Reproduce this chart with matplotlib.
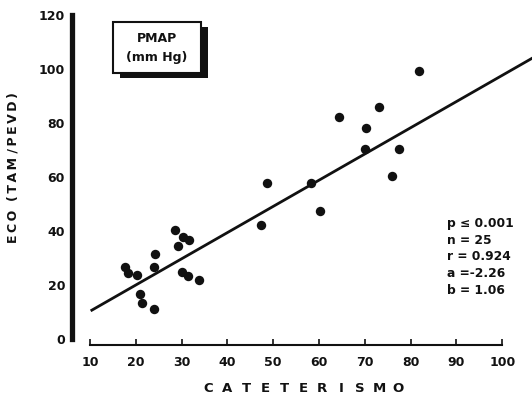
"""
Scatter of ECO vs CATETERISMO (PMAP, mm Hg) with regression line.
"""

import matplotlib
matplotlib.use("Agg")
import matplotlib.pyplot as plt
from matplotlib.patches import Rectangle

# ── Data ───────────────────────────────────────────────────────────────────────
cat_x = [17.6, 18.3, 20.3, 20.9, 21.3, 24.0, 24.2, 24.0, 28.5, 29.2,
         30.3, 31.6, 30.0, 31.4, 33.9, 47.3, 60.2, 48.6, 58.3, 64.4,
         70.0, 70.3, 73.1, 77.5, 75.9, 81.8]
eco_y = [26.7, 24.4, 23.7, 16.7, 13.3, 11.1, 31.5, 26.7, 40.4, 34.4,
         37.8, 36.7, 24.8, 23.3, 21.9, 42.2, 47.4, 57.8, 57.8, 82.2,
         70.4, 78.1, 85.9, 70.4, 60.4, 99.3]

fit_x = [10.4, 106.5]
fit_y = [10.7, 104.0]

x_ticks = [10, 20, 30, 40, 50, 60, 70, 80, 90, 100]
y_ticks = [0, 20, 40, 60, 80, 100, 120]

stats = ["p \u2264 0.001", "n = 25", "r = 0.924", "a =-2.26", "b = 1.06"]

INK = "#111111"
FONT = "DejaVu Sans"
W, H = 532, 397


def px(x, y):
    return x / W, 1 - y / H


fig = plt.figure(figsize=(5.32, 3.97), dpi=100)
ax = fig.add_axes([72 / W, 52 / H, 1 - 72 / W, 1 - 52 / H])
ax.set_xlim(6.07, 106.5)
ax.set_ylim(-2.2, 125.6)

ax.scatter(cat_x, eco_y, s=46, color=INK, zorder=3, linewidths=0)
ax.plot(fit_x, fit_y, color=INK, lw=2.0, zorder=2, clip_on=False)

# spines
for s in ("top", "right"):
    ax.spines[s].set_visible(False)
ax.spines["left"].set_linewidth(3.8)
ax.spines["left"].set_bounds(0, 120)
ax.spines["left"].set_color(INK)
ax.spines["bottom"].set_linewidth(1.5)
ax.spines["bottom"].set_bounds(10, 100)
ax.spines["bottom"].set_color(INK)

ax.set_xticks(x_ticks)
ax.set_yticks(y_ticks)
ax.tick_params(axis="x", direction="in", length=4, width=1.2, pad=8,
               labelsize=9, colors=INK)
ax.tick_params(axis="y", direction="in", length=0, pad=5,
               labelsize=9, colors=INK)
for lab in ax.get_xticklabels() + ax.get_yticklabels():
    lab.set_fontweight("bold")
    lab.set_family(FONT)

# axis titles: x title letter-spaced like the original
title_x = "CATETERISMO"
for i, ch in enumerate(title_x):
    fig.text(*px(208 + i * 19, 389), ch, ha="center", va="center",
             fontsize=9.5, fontweight="bold", family=FONT, color=INK)

fig.text(*px(13, 168), "\u2009".join("ECO") + "  " + "\u2009".join("(TAM") +
         " " + "\u2009".join("/PEVD)"), ha="center", va="center",
         rotation=90, fontsize=9, fontweight="bold", family=FONT, color=INK)

# PMAP box with drop shadow
bx0, by0, bx1, by1 = 113, 22, 201, 73
fig.patches.append(Rectangle(px(bx0 + 7, by1 + 5), (bx1 - bx0) / W,
                             (by1 - by0) / H, transform=fig.transFigure,
                             facecolor=INK, edgecolor="none", zorder=1))
fig.patches.append(Rectangle(px(bx0, by1), (bx1 - bx0) / W,
                             (by1 - by0) / H, transform=fig.transFigure,
                             facecolor="white", edgecolor=INK, lw=1.5,
                             zorder=2))
fig.text(*px(157, 38), "PMAP", ha="center", va="center", fontsize=9,
         fontweight="bold", family=FONT, color=INK, zorder=3)
fig.text(*px(157, 58), "(mm Hg)", ha="center", va="center", fontsize=9,
         fontweight="bold", family=FONT, color=INK, zorder=3)

# stats block
for i, line in enumerate(stats):
    fig.text(*px(447, 224 + i * 16.5), line, ha="left", va="center",
             fontsize=8.8, fontweight="bold", family=FONT, color=INK)

fig.savefig("out.png", dpi=100, facecolor="white")
plt.close(fig)
